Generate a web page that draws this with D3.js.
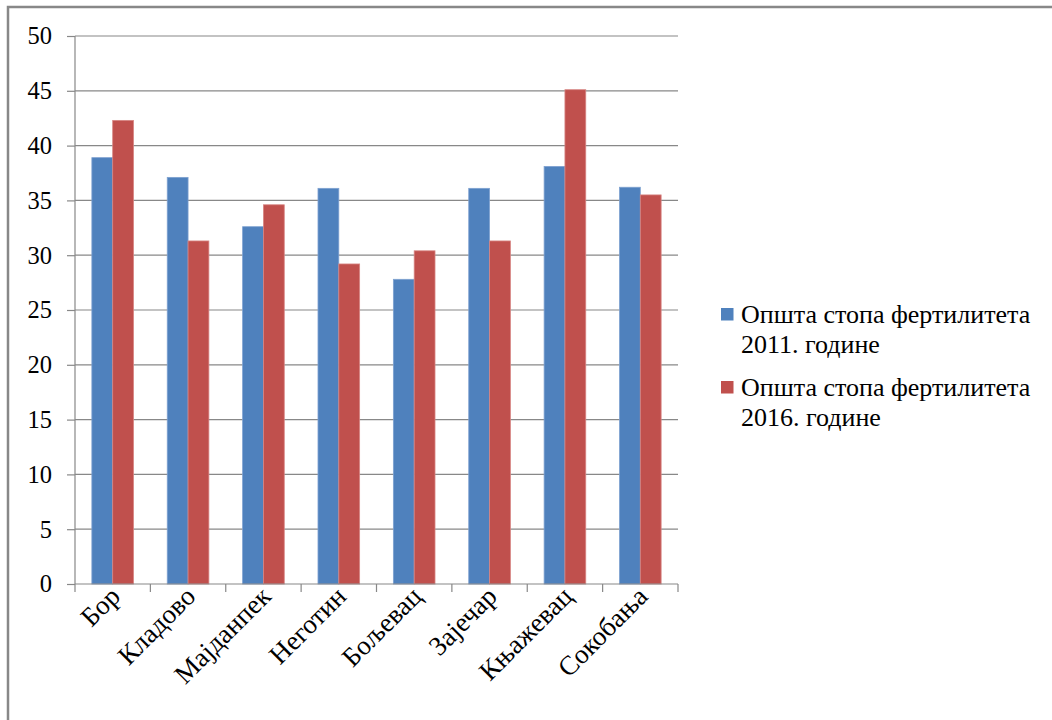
<!DOCTYPE html>
<html>
<head>
<meta charset="utf-8">
<script src="https://cdn.jsdelivr.net/npm/d3@7"></script>
<style>
  body { margin: 0; background: #fff; }
  svg { font-family: "Liberation Serif", "Times New Roman", serif; }
</style>
</head>
<body>
<div id="chart"></div>
<script>
// data
var towns = ['Бор', 'Кладово', 'Мајданпек', 'Неготин', 'Бољевац', 'Зајечар', 'Књажевац', 'Сокобања'];
var rate2011 = [38.9, 37.1, 32.6, 36.1, 27.8, 36.1, 38.1, 36.2];
var rate2016 = [42.3, 31.3, 34.6, 29.2, 30.4, 31.3, 45.1, 35.5];
var seriesNames = ['Општа стопа фертилитета 2011. године', 'Општа стопа фертилитета 2016. године'];
var yTicks = [0, 5, 10, 15, 20, 25, 30, 35, 40, 45, 50];

var colors = ['#4F81BD', '#C0504D'];
var strokes = ['#7EA1D0', '#D78583'];

var width = 1052, height = 720;
var svg = d3.select('#chart').append('svg')
    .attr('width', width)
    .attr('height', height);

// outer frame (only left and top visible)
svg.append('rect')
    .attr('x', 8).attr('y', 7)
    .attr('width', width + 20).attr('height', height + 20)
    .attr('fill', 'none')
    .attr('stroke', '#888')
    .attr('stroke-width', 2.5);

var plotLeft = 75, plotRight = 678, plotTop = 36, plotBottom = 584;

var x0 = d3.scaleBand().domain(towns).range([plotLeft, plotRight]).paddingInner(0).paddingOuter(0);
var x1 = d3.scaleBand().domain([0, 1]).range([0, x0.bandwidth()]).paddingInner(0).paddingOuter(0.81);
var y = d3.scaleLinear().domain([0, 50]).range([plotBottom, plotTop]);

// gridlines
svg.append('g').selectAll('line')
    .data(yTicks.filter(function(d) { return d > 0; }))
    .join('line')
    .attr('x1', plotLeft).attr('x2', plotRight)
    .attr('y1', function(d) { return y(d); })
    .attr('y2', function(d) { return y(d); })
    .attr('stroke', '#888')
    .attr('stroke-width', 1.2);

// bars
var groups = svg.append('g').selectAll('g')
    .data(towns)
    .join('g')
    .attr('transform', function(d) { return 'translate(' + x0(d) + ',0)'; });

groups.selectAll('rect')
    .data(function(d, i) { return [rate2011[i], rate2016[i]]; })
    .join('rect')
    .attr('x', function(d, j) { return x1(j); })
    .attr('y', function(d) { return y(d); })
    .attr('width', x1.bandwidth())
    .attr('height', function(d) { return y(0) - y(d); })
    .attr('fill', function(d, j) { return colors[j]; })
    .attr('stroke', function(d, j) { return strokes[j]; })
    .attr('stroke-width', 0.8);

// y axis
var yAxis = svg.append('g')
    .attr('transform', 'translate(' + plotLeft + ',0)')
    .call(d3.axisLeft(y).tickValues(yTicks).tickSize(8).tickPadding(15).tickFormat(d3.format('d')));
yAxis.attr('font-family', null);
yAxis.selectAll('line, path').attr('stroke', '#888').attr('stroke-width', 1.2);
yAxis.select('.domain').attr('d', 'M0,' + plotTop + 'V' + plotBottom);
yAxis.selectAll('text')
    .attr('font-size', 24.5)
    .attr('fill', '#000');

// x axis line and ticks at band edges
var xAxis = svg.append('g');
xAxis.append('line')
    .attr('x1', plotLeft).attr('x2', plotRight)
    .attr('y1', plotBottom).attr('y2', plotBottom)
    .attr('stroke', '#888').attr('stroke-width', 1.2);
xAxis.selectAll('.tk')
    .data(towns.concat(['end']))
    .join('line')
    .attr('class', 'tk')
    .attr('x1', function(d) { return d === 'end' ? plotRight : x0(d); })
    .attr('x2', function(d) { return d === 'end' ? plotRight : x0(d); })
    .attr('y1', plotBottom).attr('y2', plotBottom + 8)
    .attr('stroke', '#888').attr('stroke-width', 1.2);

xAxis.selectAll('.lbl')
    .data(towns)
    .join('text')
    .attr('class', 'lbl')
    .attr('text-anchor', 'end')
    .attr('font-size', 27)
    .attr('fill', '#000')
    .attr('transform', function(d) {
        return 'translate(' + (x0(d) + x0.bandwidth() / 2 + 9) + ',' + (plotBottom + 14) + ') rotate(-45)';
    })
    .text(function(d) { return d; });

// legend
var legend = svg.append('g').attr('transform', 'translate(721,0)');
var legendTop = [323, 396];
seriesNames.forEach(function(name, i) {
    var parts = name.split(' ');
    var line1 = parts.slice(0, 3).join(' ');
    var line2 = parts.slice(3).join(' ');
    legend.append('rect')
        .attr('x', 0).attr('y', legendTop[i] - 15)
        .attr('width', 12.5).attr('height', 12.5)
        .attr('fill', colors[i]);
    var t = legend.append('text')
        .attr('x', 20).attr('y', legendTop[i])
        .attr('font-size', 26)
        .attr('fill', '#000');
    t.append('tspan').attr('x', 20).text(line1);
    t.append('tspan').attr('x', 20).attr('dy', 30).text(line2);
});
</script>
</body>
</html>
